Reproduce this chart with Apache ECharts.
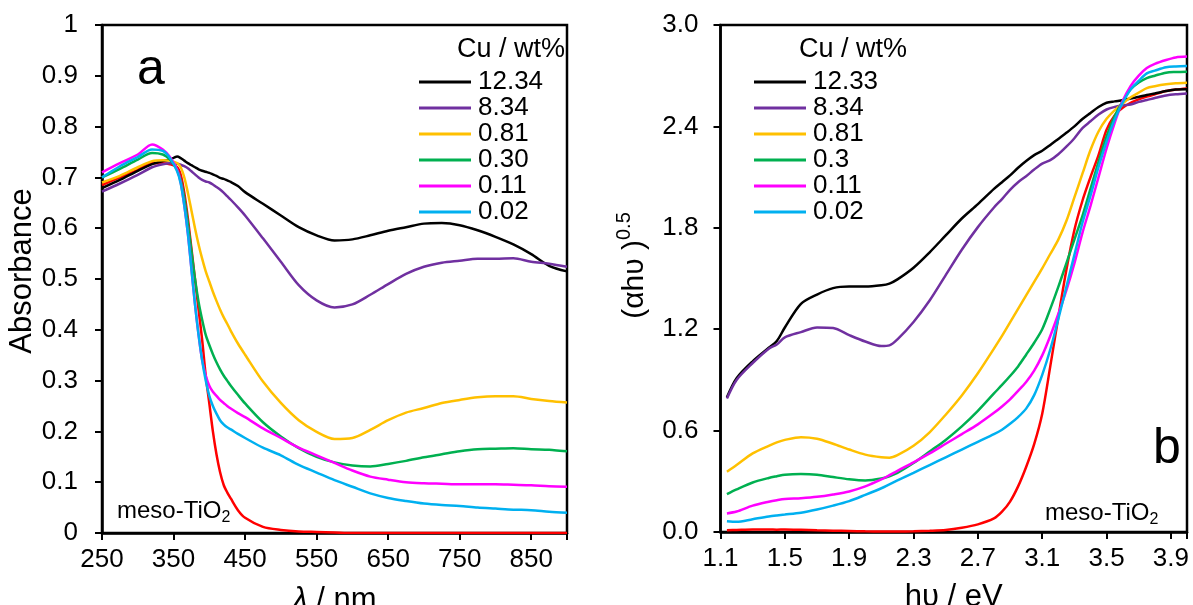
<!DOCTYPE html>
<html><head><meta charset="utf-8">
<script src="https://cdn.jsdelivr.net/npm/echarts@6/dist/echarts.min.js"></script>
<style>html,body{margin:0;padding:0;background:#fff}#c{width:1193px;height:605px}</style>
</head><body><div id="c"></div>
<script>
// ---------- Panel a: absorbance vs wavelength ----------
const lambdaNm = [250,275,300,320,335,345,355,360,365,370,375,380,385,390,395,400,405,410,415,420,425,430,440,450,475,500,525,550,575,600,625,650,675,700,725,750,775,800,825,850,875,900];
const absCu1234 = [0.679,0.695,0.713,0.726,0.732,0.735,0.741,0.738,0.733,0.728,0.724,0.72,0.716,0.713,0.711,0.709,0.706,0.703,0.699,0.697,0.694,0.691,0.683,0.671,0.648,0.625,0.602,0.586,0.576,0.578,0.586,0.595,0.602,0.609,0.610,0.606,0.596,0.583,0.568,0.549,0.526,0.515];
const absCu834 = [0.672,0.688,0.705,0.72,0.726,0.728,0.727,0.725,0.722,0.718,0.712,0.706,0.70,0.695,0.692,0.69,0.686,0.681,0.676,0.67,0.663,0.656,0.641,0.625,0.58,0.534,0.488,0.458,0.444,0.45,0.469,0.49,0.51,0.524,0.532,0.536,0.54,0.54,0.541,0.534,0.53,0.524];
const absCu081 = [0.69,0.703,0.72,0.732,0.734,0.733,0.728,0.72,0.70,0.67,0.635,0.6,0.568,0.54,0.515,0.495,0.475,0.457,0.44,0.425,0.412,0.398,0.373,0.351,0.298,0.256,0.222,0.199,0.185,0.187,0.203,0.222,0.237,0.246,0.256,0.262,0.267,0.269,0.269,0.264,0.26,0.257];
const absCu030 = [0.70,0.717,0.735,0.748,0.745,0.735,0.715,0.695,0.66,0.61,0.555,0.5,0.455,0.42,0.39,0.37,0.352,0.336,0.322,0.31,0.3,0.29,0.272,0.255,0.218,0.19,0.167,0.15,0.139,0.133,0.131,0.136,0.142,0.149,0.155,0.161,0.165,0.166,0.167,0.165,0.164,0.161];
const absCu011 = [0.71,0.728,0.745,0.765,0.755,0.74,0.715,0.69,0.645,0.59,0.52,0.45,0.39,0.34,0.31,0.29,0.278,0.27,0.262,0.256,0.25,0.245,0.236,0.228,0.206,0.187,0.168,0.153,0.138,0.123,0.111,0.105,0.1,0.098,0.097,0.096,0.096,0.096,0.095,0.094,0.092,0.091];
const absCu002 = [0.70,0.722,0.74,0.755,0.752,0.738,0.712,0.688,0.645,0.59,0.52,0.45,0.39,0.34,0.3,0.27,0.25,0.235,0.222,0.214,0.208,0.204,0.195,0.187,0.168,0.153,0.134,0.119,0.104,0.091,0.078,0.069,0.063,0.058,0.055,0.053,0.05,0.048,0.046,0.045,0.042,0.04];
const absTiO2 = [0.685,0.7,0.715,0.728,0.728,0.726,0.72,0.705,0.67,0.62,0.56,0.5,0.44,0.38,0.31,0.255,0.2,0.155,0.12,0.095,0.08,0.068,0.045,0.03,0.012,0.006,0.003,0.002,0.001,0,0,0,0,0,0,0,0,0,0,0,0,0];

// ---------- Panel b: Tauc plot ----------
const energyEv = [1.14,1.2,1.3,1.4,1.45,1.5,1.6,1.7,1.8,1.9,2.0,2.1,2.15,2.2,2.3,2.4,2.5,2.6,2.7,2.8,2.85,2.9,2.95,3.0,3.05,3.1,3.15,3.2,3.25,3.3,3.35,3.4,3.45,3.5,3.55,3.6,3.65,3.7,3.75,3.8,3.87,3.93,4.0];
const taucCu1233 = [0.797,0.91,1.01,1.09,1.13,1.21,1.35,1.405,1.443,1.452,1.452,1.46,1.47,1.495,1.564,1.655,1.755,1.855,1.94,2.03,2.07,2.11,2.155,2.195,2.23,2.256,2.29,2.326,2.362,2.40,2.444,2.48,2.515,2.54,2.548,2.555,2.565,2.575,2.586,2.595,2.609,2.618,2.62];
const taucCu834 = [0.79,0.9,1.0,1.085,1.11,1.152,1.183,1.21,1.207,1.165,1.127,1.1,1.104,1.14,1.243,1.37,1.52,1.67,1.804,1.92,1.97,2.025,2.07,2.105,2.145,2.18,2.2,2.235,2.28,2.33,2.39,2.43,2.47,2.5,2.515,2.525,2.53,2.545,2.556,2.568,2.583,2.59,2.595];
const taucCu081 = [0.357,0.396,0.465,0.51,0.53,0.545,0.561,0.552,0.522,0.488,0.458,0.442,0.44,0.455,0.51,0.59,0.694,0.808,0.939,1.085,1.16,1.24,1.32,1.4,1.48,1.56,1.645,1.73,1.84,1.98,2.12,2.26,2.37,2.445,2.495,2.535,2.572,2.6,2.627,2.638,2.649,2.655,2.659];
const taucCu03 = [0.224,0.252,0.293,0.32,0.33,0.339,0.343,0.339,0.325,0.312,0.305,0.316,0.33,0.35,0.408,0.476,0.545,0.625,0.717,0.82,0.87,0.923,0.98,1.049,1.12,1.2,1.32,1.45,1.59,1.73,1.87,2.03,2.19,2.34,2.46,2.55,2.62,2.66,2.686,2.7,2.718,2.722,2.724];
const taucCu011 = [0.11,0.121,0.156,0.179,0.188,0.195,0.2,0.208,0.222,0.24,0.27,0.311,0.336,0.362,0.412,0.465,0.522,0.579,0.637,0.705,0.743,0.785,0.835,0.888,0.955,1.045,1.16,1.29,1.43,1.59,1.77,1.93,2.1,2.27,2.42,2.55,2.64,2.7,2.745,2.77,2.793,2.808,2.813];
const taucCu002 = [0.064,0.06,0.076,0.092,0.098,0.103,0.114,0.133,0.156,0.183,0.22,0.259,0.282,0.305,0.35,0.396,0.442,0.488,0.534,0.579,0.605,0.64,0.68,0.73,0.81,0.93,1.08,1.26,1.45,1.64,1.83,1.99,2.16,2.31,2.44,2.54,2.62,2.67,2.714,2.73,2.75,2.755,2.757];
const taucTiO2 = [0.01,0.012,0.015,0.015,0.014,0.015,0.013,0.01,0.008,0.006,0.004,0.003,0.003,0.003,0.004,0.007,0.012,0.025,0.045,0.08,0.12,0.18,0.27,0.385,0.52,0.7,0.98,1.27,1.55,1.787,1.96,2.1,2.23,2.38,2.465,2.51,2.54,2.56,2.576,2.59,2.609,2.618,2.625];

const leftNames = ['12.34','8.34','0.81','0.30','0.11','0.02'];
const rightNames = ['12.33','8.34','0.81','0.3','0.11','0.02'];
const lineColors = ['#000000','#7030A0','#FFC000','#00B050','#FF00FF','#00B0F0'];
const bareColor = '#FF0000';

const FONT = '"Liberation Sans", Arial, sans-serif';
const pts = (xs, ys) => xs.map((x, i) => [x, ys[i]]);

function mkSeries(name, color, xs, ys, idx) {
  return {
    name: name, type: 'line', xAxisIndex: idx, yAxisIndex: idx,
    data: pts(xs, ys), showSymbol: false, symbol: 'none',
    smooth: 0.3,
    lineStyle: { color: color, width: 2.5 }, itemStyle: { color: color },
    emphasis: { disabled: true }, silent: true, z: 3
  };
}

const leftSets = [absCu1234, absCu834, absCu081, absCu030, absCu011, absCu002];
const rightSets = [taucCu1233, taucCu834, taucCu081, taucCu03, taucCu011, taucCu002];

const series = [mkSeries('meso-TiO2 a', bareColor, lambdaNm, absTiO2, 0)];
leftSets.forEach((d, i) => series.push(mkSeries(leftNames[i], lineColors[i], lambdaNm, d, 0)));
series.push(mkSeries('meso-TiO2 b', bareColor, energyEv, taucTiO2, 1));
rightSets.forEach((d, i) => series.push(mkSeries(rightNames[i], lineColors[i], energyEv, d, 1)));

const axisLineStyle = { show: true, onZero: false, lineStyle: { color: '#000', width: 2.5 } };
const tickStyle = { show: true, inside: false, length: 7, lineStyle: { color: '#000', width: 2 } };
const labelBase = { fontSize: 26, color: '#000', fontFamily: FONT };
const nameBase = { fontSize: 31, color: '#000', fontFamily: FONT };
const subRich = {
  m: { fontSize: 24, lineHeight: 30, fontWeight: 'normal', color: '#000', fontFamily: FONT },
  s: { fontSize: 16, lineHeight: 16, fontWeight: 'normal', verticalAlign: 'bottom', color: '#000', fontFamily: FONT }
};

const chart = echarts.init(document.getElementById('c'), null, { renderer: 'canvas' });
chart.setOption({
  animation: false,
  backgroundColor: '#fff',
  grid: [
    { left: 102, top: 25, width: 465, height: 508, outerBoundsMode: 'none', containLabel: false, show: true, borderColor: '#000', borderWidth: 2.5, backgroundColor: 'transparent' },
    { left: 720.5, top: 25, width: 466.5, height: 507, outerBoundsMode: 'none', containLabel: false, show: true, borderColor: '#000', borderWidth: 2.5, backgroundColor: 'transparent' }
  ],
  xAxis: [
    { gridIndex: 0, type: 'value', min: 250, max: 900, interval: 100,
      axisLine: axisLineStyle, axisTick: tickStyle, splitLine: { show: false },
      axisLabel: Object.assign({ margin: 14, formatter: v => (v >= 899 ? '' : String(v)) }, labelBase),
      name: '{i|λ} / nm', nameLocation: 'middle', nameGap: 52,
      nameTextStyle: Object.assign({ rich: { i: { fontSize: 31, fontStyle: 'italic', fontFamily: FONT, color: '#000' } } }, nameBase) },
    { gridIndex: 1, type: 'value', min: 1.1, max: 4.0, interval: 0.4,
      axisLine: axisLineStyle, axisTick: tickStyle, splitLine: { show: false },
      axisLabel: Object.assign({ margin: 14, formatter: v => (v > 3.95 ? '' : v.toFixed(1)) }, labelBase),
      name: 'hυ / eV', nameLocation: 'middle', nameGap: 50, nameTextStyle: nameBase }
  ],
  yAxis: [
    { gridIndex: 0, type: 'value', min: 0, max: 1, interval: 0.1,
      axisLine: axisLineStyle, axisTick: tickStyle, splitLine: { show: false },
      axisLabel: Object.assign({ margin: 24, formatter: v => String(Math.round(v * 10) / 10) }, labelBase),
      name: 'Absorbance', nameLocation: 'middle', nameRotate: 90, nameGap: 52,
      nameTextStyle: Object.assign({ padding: [0, 0, 0, 16] }, nameBase) },
    { gridIndex: 1, type: 'value', min: 0, max: 3, interval: 0.6,
      axisLine: axisLineStyle, axisTick: tickStyle, splitLine: { show: false },
      axisLabel: Object.assign({ margin: 22, formatter: v => v.toFixed(1) }, labelBase),
      name: '{a|(αhυ )}{s|0.5}', nameLocation: 'middle', nameRotate: 90, nameGap: 66,
      nameTextStyle: Object.assign({ padding: [0, 0, 0, 26], rich: {
        a: { fontSize: 30, lineHeight: 40, fontFamily: FONT, color: '#000' },
        s: { fontSize: 20, lineHeight: 20, verticalAlign: 'top', fontFamily: FONT, color: '#000' }
      } }, nameBase) }
  ],
  legend: [
    { data: leftNames, left: 419, top: 69, orient: 'vertical', icon: 'rect', itemWidth: 52, itemHeight: 3,
      itemGap: 0, padding: 0, selectedMode: false,
      textStyle: { fontSize: 26, lineHeight: 26, color: '#000', fontFamily: FONT, padding: [0, 0, 0, 2] } },
    { data: rightNames, left: 754, top: 69, orient: 'vertical', icon: 'rect', itemWidth: 52, itemHeight: 3,
      itemGap: 0, padding: 0, selectedMode: false,
      textStyle: { fontSize: 26, lineHeight: 26, color: '#000', fontFamily: FONT, padding: [0, 0, 0, 2] } }
  ],
  title: [
    { text: 'Cu / wt%', left: 457, top: 36, padding: 0, textStyle: { fontSize: 27, fontWeight: 'normal', color: '#000', fontFamily: FONT } },
    { text: 'Cu / wt%', left: 799, top: 36, padding: 0, textStyle: { fontSize: 27, fontWeight: 'normal', color: '#000', fontFamily: FONT } },
    { text: 'a', left: 137, top: 45, padding: 0, textStyle: { fontSize: 50, fontWeight: 'normal', color: '#000', fontFamily: FONT } },
    { text: 'b', left: 1153, top: 424, padding: 0, textStyle: { fontSize: 50, fontWeight: 'normal', color: '#000', fontFamily: FONT } },
    { text: '{m|meso-TiO}{s|2}', left: 117, top: 496, padding: 0, textStyle: { fontWeight: 'normal', rich: subRich } },
    { text: '{m|meso-TiO}{s|2}', left: 1045, top: 498, padding: 0, textStyle: { fontWeight: 'normal', rich: subRich } }
  ],
  series: series
});
</script></body></html>
